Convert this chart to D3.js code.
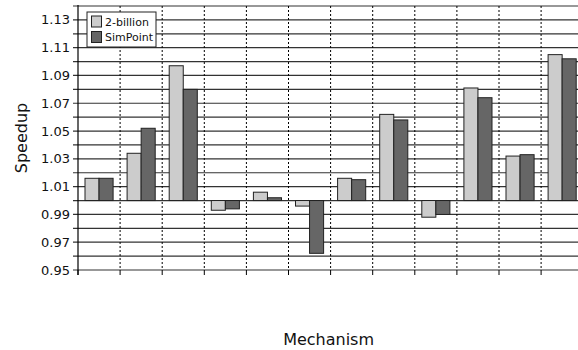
<!DOCTYPE html>
<html>
<head>
<meta charset="utf-8">
<script src="https://cdn.jsdelivr.net/npm/d3@7"></script>
<style>
  html, body { margin: 0; padding: 0; background: #fff; }
  svg { display: block; font-family: "DejaVu Sans", sans-serif; }
</style>
</head>
<body>
<svg id="chart" width="578" height="350"></svg>
<script>
// Mechanisms along the x axis (unlabelled groups)
const categories = ["M1","M2","M3","M4","M5","M6","M7","M8","M9","M10","M11","M12"];
const seriesNames = ["2-billion", "SimPoint"];
const twoBillion = [1.016, 1.034, 1.097, 0.993, 1.006, 0.996, 1.016, 1.062, 0.988, 1.081, 1.032, 1.105];
const simPoint   = [1.016, 1.052, 1.080, 0.994, 1.002, 0.962, 1.015, 1.058, 0.990, 1.074, 1.033, 1.102];
const tickLabels = ["0.95","0.97","0.99","1.01","1.03","1.05","1.07","1.09","1.11","1.13"];
const baseline = 1.0;

const seriesValues = [twoBillion, simPoint];
const fills = ["#cccccc", "#666666"];

const svg = d3.select("#chart");
const plotLeft = 78, plotTop = 6, plotBottom = 270;
const step = 42.1;
const plotRight = plotLeft + categories.length * step;

const y = d3.scaleLinear().domain([0.95, 1.14]).range([plotBottom, plotTop]);
const x = d3.scaleBand().domain(categories).range([plotLeft, plotRight]).padding(0);
const xs = d3.scaleBand().domain(seriesNames).range([7, x.bandwidth() - 7]).padding(0);

// horizontal grid every 0.01, extended left as tick marks
const gridVals = d3.range(0, 20).map(i => +(0.95 + i * 0.01).toFixed(2));
svg.append("g").selectAll("line").data(gridVals).join("line")
  .attr("x1", plotLeft - 5).attr("x2", plotRight)
  .attr("y1", d => y(d)).attr("y2", d => y(d))
  .attr("stroke", "#333").attr("stroke-width", 1.2);

// dotted separators between mechanisms
const seps = categories.slice(1).map(c => x(c));
svg.append("g").selectAll("line").data(seps).join("line")
  .attr("x1", d => d).attr("x2", d => d)
  .attr("y1", plotTop).attr("y2", plotBottom)
  .attr("stroke", "#000").attr("stroke-width", 1).attr("stroke-dasharray", "2,2");

// bottom tick marks at group boundaries
svg.append("g").selectAll("line").data([plotLeft, ...seps, plotRight]).join("line")
  .attr("x1", d => d).attr("x2", d => d)
  .attr("y1", plotBottom).attr("y2", plotBottom + 5)
  .attr("stroke", "#000").attr("stroke-width", 1);

// y axis line
svg.append("line")
  .attr("x1", plotLeft).attr("x2", plotLeft).attr("y1", plotTop - 1).attr("y2", plotBottom + 5)
  .attr("stroke", "#000").attr("stroke-width", 1.2);

// y tick labels
svg.append("g").selectAll("text").data(tickLabels).join("text")
  .attr("x", plotLeft - 8).attr("y", d => y(+d)).attr("dy", "0.35em")
  .attr("text-anchor", "end").attr("font-size", 13).attr("fill", "#111")
  .text(d => d);

// bars from the 1.0 baseline
const groups = svg.append("g").selectAll("g").data(categories).join("g")
  .attr("transform", d => `translate(${x(d)},0)`);
groups.selectAll("rect")
  .data((c, i) => seriesNames.map((s, k) => ({ s, k, v: seriesValues[k][i] })))
  .join("rect")
  .attr("x", d => xs(d.s))
  .attr("width", xs.bandwidth())
  .attr("y", d => y(Math.max(d.v, baseline)))
  .attr("height", d => Math.abs(y(d.v) - y(baseline)))
  .attr("fill", d => fills[d.k])
  .attr("stroke", "#222").attr("stroke-width", 1);

// legend
const lg = svg.append("g");
lg.append("rect").attr("x", 87).attr("y", 12).attr("width", 69).attr("height", 35)
  .attr("fill", "#fff").attr("stroke", "#222").attr("stroke-width", 1);
seriesNames.forEach((s, k) => {
  lg.append("rect").attr("x", 91.5).attr("y", 16 + k * 15.5).attr("width", 10).attr("height", 11)
    .attr("fill", fills[k]).attr("stroke", "#222").attr("stroke-width", 1);
  lg.append("text").attr("x", 105).attr("y", 25.5 + k * 15)
    .attr("font-size", 11).attr("fill", "#111").text(s);
});

// axis titles
svg.append("text").attr("x", (plotLeft + plotRight) / 2 - 2).attr("y", 345)
  .attr("text-anchor", "middle").attr("font-size", 16).attr("fill", "#111").text("Mechanism");
svg.append("text").attr("transform", `translate(27,${(plotTop + plotBottom) / 2}) rotate(-90)`)
  .attr("text-anchor", "middle").attr("font-size", 16).attr("fill", "#111").text("Speedup");
</script>
</body>
</html>
